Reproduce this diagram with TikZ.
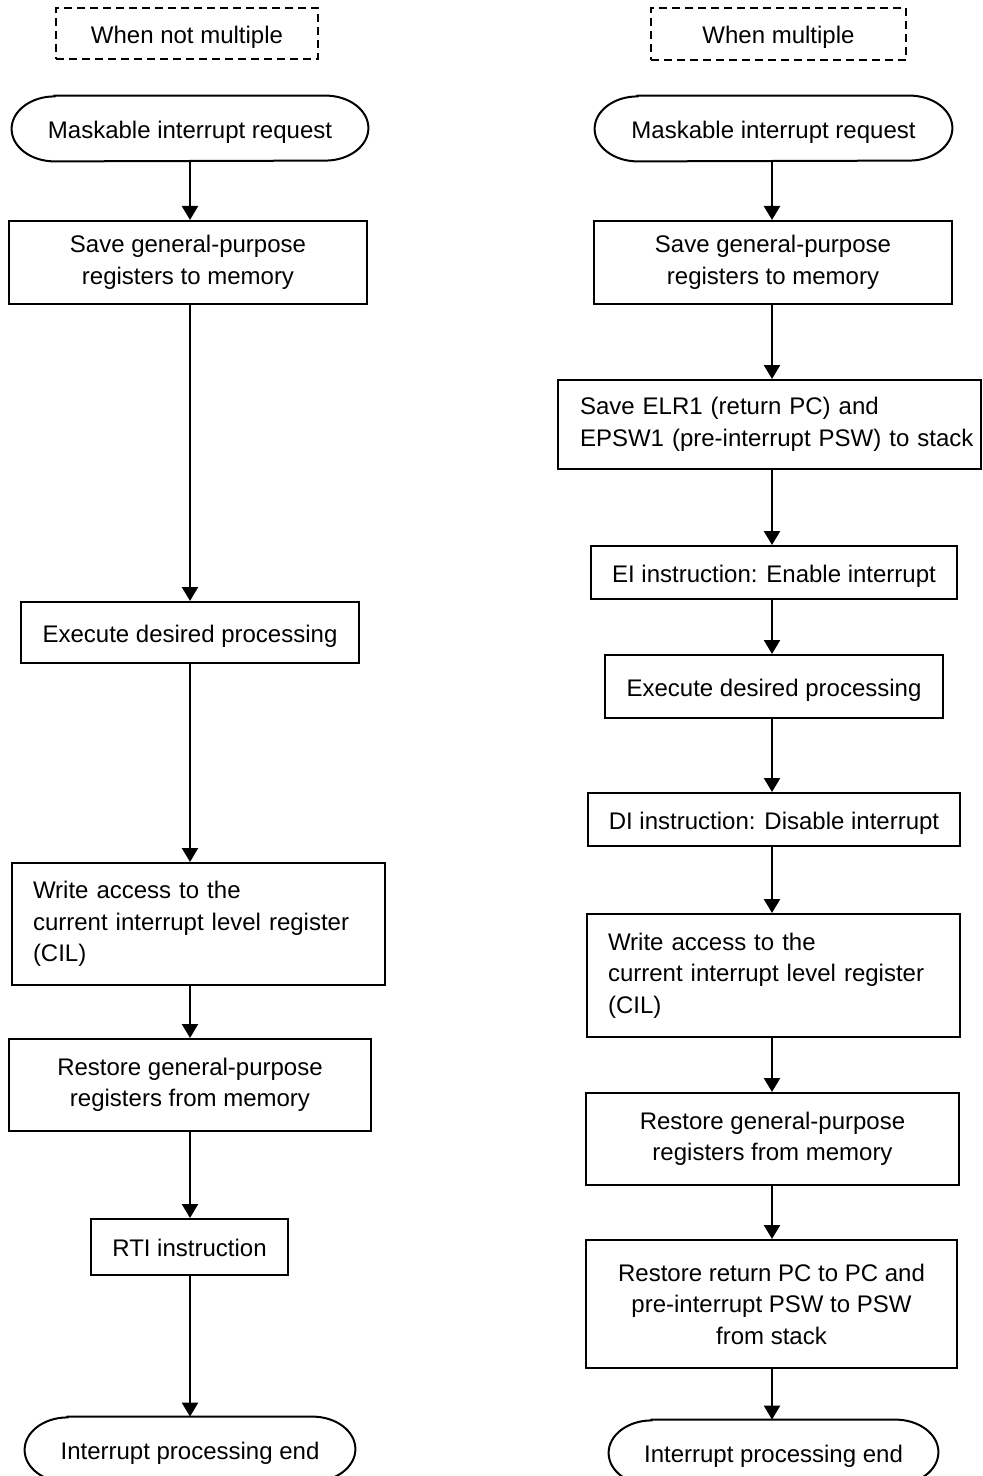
\documentclass[tikz,border=0pt]{standalone}
\usepackage{fontspec}
\setmainfont{Liberation Sans}
\usetikzlibrary{arrows.meta,calc}
\tikzset{
  txt/.style={font=\fontsize{12pt}{15.75pt}\selectfont, inner sep=0pt, align=center, text=black},
  one/.style={text height=9.6pt, text depth=0pt},
  sz/.style 2 args={minimum width=#1*0.5pt, minimum height=#2*0.5pt},
  procbox/.style={txt, draw=black, line width=1pt, rectangle},
  hdr/.style={txt, one, draw=black, line width=0.8pt, dash pattern=on 4pt off 2.5pt},
  term/.style={txt, one},
  lbox/.style={procbox, align=left, inner xsep=10.5pt, text width=165.5pt},
  arr/.style={line width=1.2pt, -{Triangle[length=7pt,width=8pt]}},
  stadline/.style={line width=1pt, draw=black}
}
\newcommand\stadium[1]{%
  \draw[stadline] ($(#1.north west)+(43,0)$) -- ($(#1.north east)+(-43,0)$)
    arc[start angle=90,end angle=-90,x radius=21.5pt,y radius=16.25pt]
    -- ($(#1.south west)+(43,0)$)
    arc[start angle=270,end angle=90,x radius=21.5pt,y radius=16.25pt] -- cycle;}
\begin{document}
\begin{tikzpicture}[x=0.5pt,y=-0.5pt]
\useasboundingbox (0,0) rectangle (982,1476);
\clip (0,0) rectangle (982,1476);
\fill[white] (0,0) rectangle (982,1476);
\coordinate (cL) at (190,0);
\coordinate (cR) at (772,0);
% left column
\node[hdr, sz={262}{51}] (hL) at (187,33.5) {When not multiple};
\node[term, sz={356}{65}] (mL) at (190,128.5) {Maskable interrupt request};
\node[procbox, sz={358}{83}] (sL) at (188,262.5) {Save general-purpose\\registers to memory};
\node[procbox, one, sz={338}{61}] (eL) at (190,632.5) {Execute desired processing};
\node[lbox, sz={373}{122}] (wL) at (198.5,924) {Write access to the\\current interrupt level register\\(CIL)};
\node[procbox, sz={362}{92}] (rL) at (190,1085) {Restore general-purpose\\registers from memory};
\node[procbox, one, sz={197}{56}] (tL) at (189.5,1247) {RTI instruction};
\node[term, sz={330}{65}] (nL) at (190,1449.5) {Interrupt processing end};
% right column
\node[hdr, sz={255}{52}] (hR) at (778.5,34) {When multiple};
\node[term, sz={357}{65}] (mR) at (773.5,128.5) {Maskable interrupt request};
\node[procbox, sz={358}{83}] (sR) at (773,262.5) {Save general-purpose\\registers to memory};
\node[procbox, align=left, inner xsep=0pt, text width=211.5pt, sz={423}{89}] (xR) at (769.5,424.5) {\hspace*{11pt}Save ELR1 (return PC) and\\\hspace*{11pt}EPSW1 (pre-interrupt PSW) to stack};
\node[procbox, one, sz={366}{53}] (eiR) at (774,572.5) {EI instruction: Enable interrupt};
\node[procbox, one, sz={338}{63}] (exR) at (774,686.5) {Execute desired processing};
\node[procbox, one, sz={372}{53}] (diR) at (774,819.5) {DI instruction: Disable interrupt};
\node[lbox, sz={373}{123}] (wR) at (773.5,975.5) {Write access to the\\current interrupt level register\\(CIL)};
\node[procbox, sz={373}{92}] (rR) at (772.5,1139) {Restore general-purpose\\registers from memory};
\node[procbox, sz={371}{128}] (pR) at (771.5,1304) {Restore return PC to PC and\\pre-interrupt PSW to PSW\\from stack};
\node[term, sz={329}{65}] (nR) at (773.5,1452.5) {Interrupt processing end};
% terminal outlines
\stadium{mL}\stadium{nL}\stadium{mR}\stadium{nR}
% connectors left
\draw[arr] (mL.south -| cL) -- (sL.north -| cL);
\draw[arr] (sL.south -| cL) -- (eL.north -| cL);
\draw[arr] (eL.south -| cL) -- (wL.north -| cL);
\draw[arr] (wL.south -| cL) -- (rL.north -| cL);
\draw[arr] (rL.south -| cL) -- (tL.north -| cL);
\draw[arr] (tL.south -| cL) -- (nL.north -| cL);
% connectors right
\draw[arr] (mR.south -| cR) -- (sR.north -| cR);
\draw[arr] (sR.south -| cR) -- (xR.north -| cR);
\draw[arr] (xR.south -| cR) -- (eiR.north -| cR);
\draw[arr] (eiR.south -| cR) -- (exR.north -| cR);
\draw[arr] (exR.south -| cR) -- (diR.north -| cR);
\draw[arr] (diR.south -| cR) -- (wR.north -| cR);
\draw[arr] (wR.south -| cR) -- (rR.north -| cR);
\draw[arr] (rR.south -| cR) -- (pR.north -| cR);
\draw[arr] (pR.south -| cR) -- (nR.north -| cR);
\end{tikzpicture}
\end{document}
